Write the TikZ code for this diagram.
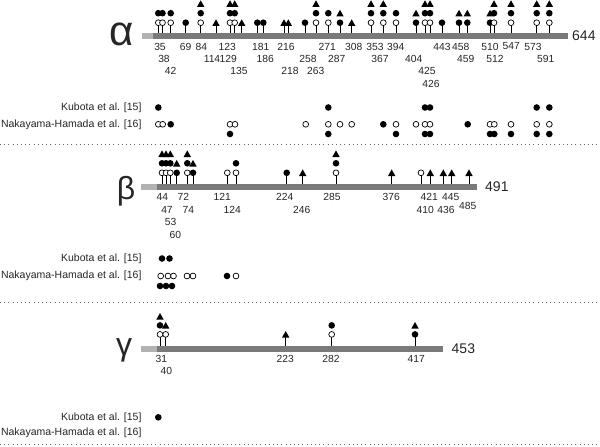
\documentclass[tikz,border=0pt]{standalone}
\usepackage{fontspec}
\setmainfont{Liberation Sans}
\begin{document}
\begin{tikzpicture}[x=1pt,y=-1pt,
  num/.style={font=\fontsize{10.3}{12}\selectfont,text=black!85,inner sep=0pt},
  ref/.style={font=\fontsize{10.5}{12}\selectfont,text=black!85,inner sep=0pt,anchor=east},
  len/.style={font=\fontsize{14}{15}\selectfont,text=black!85,inner sep=0pt,anchor=west},
  greek/.style={font=\fontsize{32}{34}\selectfont,text=black!85,inner sep=0pt},
  barlight/.style={fill=black!30},
  bardark/.style={fill=black!52},
  stemline/.style={draw=black,line width=0.8pt},
  sepline/.style={draw=black!60,line width=0.7pt,dash pattern=on 0.8pt off 3.4pt}]
\useasboundingbox[fill=white] (0,0) rectangle (600,447);
\newcommand\mko[2]{\draw[line width=0.7pt,fill=white] (#1,#2) circle[radius=2.9pt];}
\newcommand\mkf[2]{\fill (#1,#2) circle[radius=3.3pt];}
\newcommand\mkt[2]{\fill (#1-3.7,#2+3.2) -- (#1+3.7,#2+3.2) -- (#1,#2-3.4) -- cycle;}
\newcommand\site[2]{%
  \draw[stemline] (#1,\bartop) -- (#1,\levone);
  \edef\mklist{#2}%
  \foreach \m [count=\i from 0] in \mklist {
    \pgfmathsetmacro\yy{\levone-\i*\levgap}
    \csname mk\m\endcsname{#1}{\yy}
  }}
% ---------------- alpha ----------------
\fill[barlight] (142,32.5) rectangle (153,38.5);
\fill[bardark] (153,32.5) rectangle (568,38.5);
\node[greek,font=\fontsize{42}{44}\selectfont] (alpha) at (121.5,34) {α};
\node[len] (alen) at (572,36) {644};
\def\bartop{32.5}\def\levone{22.7}\def\levgap{9.5}
\foreach \x/\s in {158.3/{o,f},162.5/{o,f},170.7/{o,f},185.7/{f},200.7/{o,f,t},216/{t},
  230/{o,f,t},234.7/{o,f,t},241.7/{t},257.3/{f},263.3/{f},284/{t},288.3/{t},305/{f},
  316/{o,f,t},328.3/{o,f},340/{f,t},351.7/{t},371/{o,f,t},383.3/{o,f,t},396/{o,f},
  416/{f,t},425/{o,f,t},430/{o,f,t},442/{f},459/{f,t},467.3/{f,t},490/{f,t},494/{o,f,t},
  511/{o,f,t},536.7/{o,f,t},549.3/{o,f,t}}
  {\site{\x}{\s}}
\foreach \x/\r/\t in {160/46.5/35,164/59/38,170.7/71/42,185.7/46.5/69,201.3/46.5/84,
  212/59/114,227.3/46.5/123,228.3/59/129,239/71/135,260.7/46.5/181,265.3/59/186,
  286/46.5/216,290/71/218,308/59/258,315.7/71/263,327.3/46.5/271,336.7/59/287,
  353.7/46.5/308,375/46.5/353,380/59/367,395.7/46.5/394,413.7/59/404,427/71/425,
  431/83.5/426,442/46.5/443,460.7/46.5/458,465.7/59/459,490/46.5/510,495/59/512,
  511.3/46.5/547,533/46.5/573,545.7/59/591}
  {\node[num] (a\t) at (\x,\r) {\t};}
\node[ref] (ak) at (141.7,108) {Kubota et al. [15]};
\node[ref] (an) at (141.7,124.5) {Nakayama-Hamada et al. [16]};
\foreach \x in {158.3,328.3,425,430,536.7,549.3} {\mkf{\x}{107.5}}
\foreach \x in {158.3,162.7,230,235,305.7,328.3,340,351.7,396,416,425,430,490,494.3,511,536.7,549.3}
  {\mko{\x}{124.3}}
\foreach \x in {170.7,383.3,467.7} {\mkf{\x}{124.3}}
\foreach \x in {230,328.3,396,425,430,490,494.3,511,536.7,549.3} {\mkf{\x}{134}}
\draw[sepline] (0,144) -- (600,144);
% ---------------- beta ----------------
\fill[barlight] (141,183.5) rectangle (156.7,189.5);
\fill[bardark] (156.7,183.5) rectangle (476.7,189.5);
\node[greek] (beta) at (126,191) {β};
\node[len] (blen) at (485,186.5) {491};
\def\bartop{183.5}\def\levone{172.8}\def\levgap{9.5}
\foreach \x/\s in {162/{o,f,t},166/{o,f,t},170.3/{o,f,t},176.7/{f,t},187.3/{o,f,t},193/{f,t},
  227.3/{o},236/{o,f},286.7/{f},302.7/{t},336/{o,f,t},391.7/{t},421/{o},430.3/{t},
  443.3/{t},451.7/{t},469/{t}}
  {\site{\x}{\s}}
\foreach \x/\r/\t in {162.3/197.3/44,167/210/47,170.7/221.7/53,175.3/235/60,
  183.3/197.3/72,188.3/210/74,222.3/197.3/121,232.3/210/124,284.7/197.3/224,
  301.7/210/246,332/197.3/285,391.3/197.3/376,429.3/197.3/421,425.3/210/410,
  446/210/436,450.7/197.3/445,467.7/206/485}
  {\node[num] (b\t) at (\x,\r) {\t};}
\node[ref] (bk) at (141.7,259) {Kubota et al. [15]};
\node[ref] (bn) at (141.7,275.5) {Nakayama-Hamada et al. [16]};
\foreach \x in {162,169.5} {\mkf{\x}{258.5}}
\foreach \x in {160.7,168,173.5,187,193,236} {\mko{\x}{276}}
\mkf{227}{276}
\foreach \x in {160,166,172} {\mkf{\x}{286}}
\draw[sepline] (0,302.3) -- (600,302.3);
% ---------------- gamma ----------------
\fill[barlight] (141,345.7) rectangle (156.7,351.7);
\fill[bardark] (156.7,345.7) rectangle (442.7,351.7);
\node[greek] (gamma) at (124,350) {γ};
\node[len] (glen) at (451.5,348.5) {453};
\def\bartop{345.7}\def\levone{334.4}\def\levgap{9}
\foreach \x/\s in {160/{o,f,t},165.7/{o,t},285.7/{t},331.7/{o,f},415/{f,t}}
  {\site{\x}{\s}}
\foreach \x/\r/\t in {161.3/359/31,166.3/371/40,285.3/359/223,331/359/282,416.3/359/417}
  {\node[num] (c\t) at (\x,\r) {\t};}
\node[ref] (ck) at (141.7,417.5) {Kubota et al. [15]};
\node[ref] (cn) at (141.7,432.5) {Nakayama-Hamada et al. [16]};
\mkf{158.3}{417.3}
\draw[sepline] (0,444) -- (600,444);
\end{tikzpicture}
\end{document}
